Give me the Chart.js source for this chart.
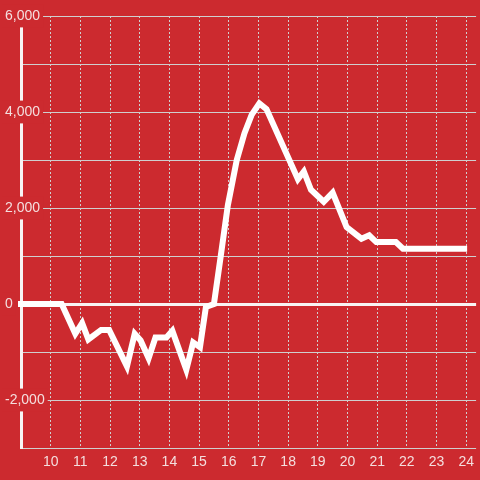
<!DOCTYPE html>
<html>
<head>
<meta charset="utf-8">
<script src="https://cdn.jsdelivr.net/npm/chart.js@4/dist/chart.umd.min.js"></script>
<style>
  html, body { margin: 0; padding: 0; background: #cc2a2f; }
</style>
</head>
<body>
<canvas id="chart" width="480" height="480"></canvas>
<script>
// hour of day (decimal) and value
const hours = [9.0, 10.37, 10.83, 11.06, 11.27, 11.7, 11.97, 12.57, 12.83, 13.03, 13.3, 13.53, 13.9, 14.1,
  14.57, 14.8, 15.03, 15.23, 15.5, 15.73, 15.97, 16.27, 16.53, 16.77, 17.03, 17.27, 18.33, 18.53, 18.77,
  19.2, 19.5, 19.97, 20.47, 20.73, 20.97, 21.63, 21.87, 23.93];
const values = [0, 0, -620, -400, -740, -540, -540, -1300, -620, -760, -1130, -700, -700, -560,
  -1370, -800, -900, -60, 0, 1000, 2060, 3000, 3560, 3940, 4180, 4060, 2600, 2760, 2380,
  2130, 2320, 1600, 1360, 1430, 1290, 1290, 1150, 1150];
const xTickLabels = [10, 11, 12, 13, 14, 15, 16, 17, 18, 19, 20, 21, 22, 23, 24];
const yTickLabels = [-2000, 0, 2000, 4000, 6000];

const bg = '#cc2a2f';
const textColor = '#f4dede';
const gridColor = '#cfcfcf';

// 背景色
const bgPlugin = {
  id: 'bg',
  beforeDraw(chart) {
    const c = chart.ctx;
    c.save();
    c.fillStyle = bg;
    c.fillRect(0, 0, chart.width, chart.height);
    c.restore();
  }
};

const ctx = document.getElementById('chart').getContext('2d');
new Chart(ctx, {
  type: 'line',
  data: {
    datasets: [{
      data: hours.map((h, i) => ({ x: h, y: values[i] })),
      borderColor: '#ffffff',
      borderWidth: 6,
      borderCapStyle: 'square',
      pointRadius: 0,
      tension: 0,
      fill: false,
      clip: 6
    }]
  },
  options: {
    responsive: false,
    animation: false,
    layout: { padding: { left: 4, top: 16, right: 0, bottom: 0 } },
    plugins: { legend: { display: false }, tooltip: { enabled: false } },
    scales: {
      x: {
        type: 'linear',
        min: 9,
        max: 24.333,
        afterBuildTicks: s => {
          s.ticks = xTickLabels.map(v => ({ value: v }));
        },
        afterFit: s => { s.height = 32; },
        grid: { color: gridColor, lineWidth: 1, drawTicks: false, tickLength: 0 },
        border: { display: false, dash: [2, 2] },
        ticks: {
          color: textColor,
          padding: 6,
          maxRotation: 0,
          font: { family: 'Liberation Sans', size: 14 },
          callback: v => String(v)
        }
      },
      y: {
        min: -3000,
        max: 6000,
        afterBuildTicks: s => {
          const t = [];
          for (let v = -3000; v <= 6000; v += 1000) t.push({ value: v });
          s.ticks = t;
        },
        afterFit: s => { s.width = 17; },
        grid: {
          color: c => c.tick && c.tick.value === 0 ? '#f8f4f4' : gridColor,
          lineWidth: c => c.tick && c.tick.value === 0 ? 3 : 1,
          drawTicks: false,
          tickLength: 0
        },
        border: { display: true, color: '#f8f4f4', width: 3 },
        ticks: {
          color: textColor,
          mirror: true,
          crossAlign: 'near',
          padding: -16,
          font: { family: 'Liberation Sans', size: 14 },
          showLabelBackdrop: c => yTickLabels.includes(c.tick.value),
          backdropColor: bg,
          backdropPadding: 3,
          callback: v => yTickLabels.includes(v) ? v.toLocaleString('en-US') : ''
        }
      }
    }
  },
  plugins: [bgPlugin]
});
</script>
</body>
</html>
